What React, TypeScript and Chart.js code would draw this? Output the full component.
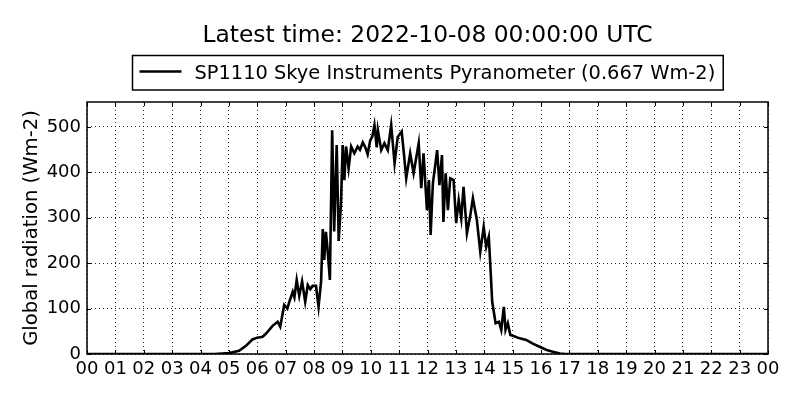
import React, { useEffect, useRef } from "react";
import { Chart, registerables } from "chart.js";

Chart.register(...registerables);

const TITLE = "Latest time: 2022-10-08 00:00:00 UTC";
const SERIES_LABEL = "SP1110 Skye Instruments Pyranometer (0.667 Wm-2)";
const Y_TITLE = "Global radiation (Wm-2)";
const FONT = "DejaVu Sans";

const xTickLabels = [
  "00", "01", "02", "03", "04", "05", "06", "07", "08", "09", "10", "11",
  "12", "13", "14", "15", "16", "17", "18", "19", "20", "21", "22", "23", "00",
];
const yTickValues = [0, 100, 200, 300, 400, 500];

// time of day (hours, UTC)
const hours = [
  0, 4.5, 5.01, 5.36, 5.6, 5.83, 6.0, 6.19, 6.31, 6.54, 6.72, 6.81, 6.95,
  7.06, 7.13, 7.25, 7.31, 7.39, 7.48, 7.58, 7.69, 7.78, 7.87, 7.95, 8.07,
  8.16, 8.25, 8.31, 8.36, 8.42, 8.48, 8.56, 8.64, 8.71, 8.8, 8.87, 8.95,
  9.01, 9.07, 9.13, 9.22, 9.31, 9.42, 9.54, 9.62, 9.72, 9.81, 9.89, 9.98,
  10.06, 10.13, 10.21, 10.25, 10.37, 10.48, 10.6, 10.72, 10.84, 10.95,
  11.09, 11.17, 11.25, 11.39, 11.51, 11.69, 11.78, 11.86, 11.98, 12.05,
  12.11, 12.19, 12.34, 12.42, 12.51, 12.56, 12.64, 12.72, 12.8, 12.92,
  13.01, 13.1, 13.19, 13.27, 13.39, 13.51, 13.6, 13.74, 13.86, 13.98,
  14.07, 14.16, 14.21, 14.28, 14.4, 14.52, 14.6, 14.69, 14.75, 14.83,
  14.92, 15.01, 15.22, 15.48, 15.71, 15.95, 16.2, 16.42, 16.66, 16.84, 24,
];
// global radiation (Wm-2)
const radiation = [
  0, 0, 2, 7, 18, 32, 36, 38, 45, 62, 71, 60, 108,
  100, 115, 137, 125, 163, 128, 160, 115, 152, 143, 150, 150,
  104, 160, 275, 207, 269, 229, 163, 493, 270, 460, 249, 330,
  460, 383, 457, 409, 457, 442, 457, 450, 466, 455, 440, 470,
  480, 504, 455, 493, 449, 464, 449, 504, 420, 478,
  490, 440, 387, 442, 398, 464, 365, 442, 317, 383,
  262, 376, 449, 372, 438, 291, 398, 317, 387, 383,
  288, 339, 299, 368, 266, 306, 343, 295, 225, 280,
  236, 258, 200, 115, 68, 71, 53, 104, 53, 68,
  42, 40, 35, 31, 23, 16, 9, 5, 1, 0, 0,
];

const decorPlugin = {
  id: "decor",
  afterDraw(chart: any) {
    const { ctx, chartArea: a, scales } = chart;
    ctx.save();
    // frame
    ctx.strokeStyle = "#000";
    ctx.lineWidth = 1.5;
    ctx.strokeRect(a.left, a.top, a.right - a.left, a.bottom - a.top);
    // inward ticks
    ctx.lineWidth = 1;
    const tl = 4;
    for (let i = 0; i < xTickLabels.length; i++) {
      const px = Math.round(scales.x.getPixelForValue(i)) + 0.5;
      ctx.beginPath();
      ctx.moveTo(px, a.bottom);
      ctx.lineTo(px, a.bottom - tl);
      ctx.moveTo(px, a.top);
      ctx.lineTo(px, a.top + tl);
      ctx.stroke();
    }
    for (const v of yTickValues) {
      const py = Math.round(scales.y.getPixelForValue(v)) + 0.5;
      ctx.beginPath();
      ctx.moveTo(a.left, py);
      ctx.lineTo(a.left + tl, py);
      ctx.moveTo(a.right, py);
      ctx.lineTo(a.right - tl, py);
      ctx.stroke();
    }
    const cx = (a.left + a.right) / 2;
    // title
    ctx.fillStyle = "#000";
    ctx.font = `23.4px "${FONT}"`;
    ctx.textAlign = "center";
    ctx.textBaseline = "alphabetic";
    ctx.fillText(TITLE, cx, 42);
    // legend
    ctx.font = `19.4px "${FONT}"`;
    const tw = ctx.measureText(SERIES_LABEL).width;
    const bw = 62 + tw + 8;
    const bx = Math.round(cx - bw / 2) + 0.5;
    const by = 55.5;
    const bh = 34.5;
    ctx.lineWidth = 1.5;
    ctx.strokeRect(bx, by, bw, bh);
    ctx.lineWidth = 2.5;
    ctx.beginPath();
    ctx.moveTo(bx + 7, 71.5);
    ctx.lineTo(bx + 49, 71.5);
    ctx.stroke();
    ctx.textAlign = "left";
    ctx.fillText(SERIES_LABEL, bx + 62, 78.5);
    // y title
    ctx.save();
    ctx.font = `19.6px "${FONT}"`;
    ctx.translate(36.5, (a.top + a.bottom) / 2);
    ctx.rotate(-Math.PI / 2);
    ctx.textAlign = "center";
    ctx.fillText(Y_TITLE, 0, 0);
    ctx.restore();
    ctx.restore();
  },
};

export default function App() {
  const ref = useRef<HTMLCanvasElement>(null);
  useEffect(() => {
    if (!ref.current) return;
    const points = hours.map((h, i) => ({ x: h, y: radiation[i] }));
    const gridStyle = {
      color: "rgba(0,0,0,0.85)",
      lineWidth: 1,
      drawTicks: false,
    };
    const chart = new Chart(ref.current, {
      type: "line",
      data: {
        datasets: [
          {
            label: SERIES_LABEL,
            data: points,
            borderColor: "#000",
            borderWidth: 2.6,
            borderJoinStyle: "miter",
            pointRadius: 0,
            tension: 0,
            fill: false,
          },
        ],
      },
      options: {
        responsive: false,
        animation: false,
        devicePixelRatio: 1,
        layout: { padding: { top: 102, right: 32, left: 0, bottom: 0 } },
        plugins: {
          legend: { display: false },
          title: { display: false },
          tooltip: { enabled: false },
        },
        scales: {
          x: {
            type: "linear",
            min: 0,
            max: 24,
            afterBuildTicks: (s: any) => {
              s.ticks = xTickLabels.map((_, i) => ({ value: i }));
            },
            ticks: {
              autoSkip: false,
              maxRotation: 0,
              minRotation: 0,
              padding: 5,
              color: "#000",
              font: { family: FONT, size: 18 },
              callback: (v: any) => xTickLabels[Number(v)] ?? "",
            },
            grid: gridStyle,
            border: { display: false, dash: [1, 3] },
            afterFit: (s: any) => {
              s.height = 46;
            },
          },
          y: {
            type: "linear",
            min: 0,
            max: 555,
            afterBuildTicks: (s: any) => {
              s.ticks = yTickValues.map((v) => ({ value: v }));
            },
            ticks: {
              padding: 6,
              color: "#000",
              font: { family: FONT, size: 18 },
              callback: (v: any) => String(v),
            },
            grid: gridStyle,
            border: { display: false, dash: [1, 3] },
            afterFit: (s: any) => {
              s.width = 87;
            },
          },
        },
      },
      plugins: [decorPlugin],
    });
    return () => chart.destroy();
  }, []);
  return (
    <div style={{ position: "absolute", left: 0, top: 0, width: 800, height: 400, background: "#fff" }}>
      <canvas ref={ref} width={800} height={400} />
    </div>
  );
}
